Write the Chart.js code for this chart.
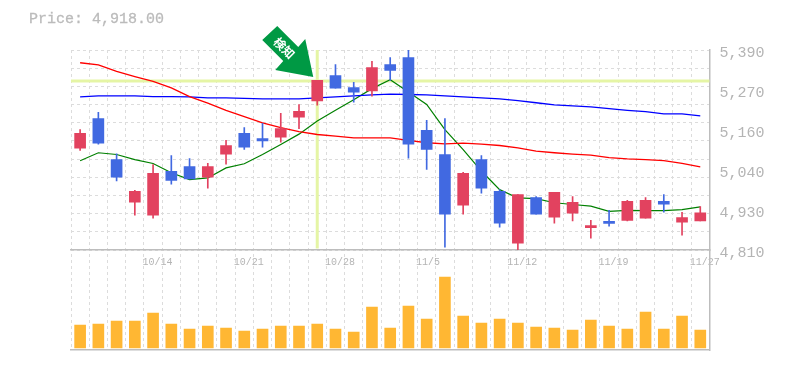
<!DOCTYPE html>
<html>
<head>
<meta charset="utf-8">
<title>Price chart</title>
<script src="https://cdn.jsdelivr.net/npm/chart.js@4"></script>
<style>
    body { margin: 0; background: #fff; }
    #wrap { position: relative; width: 785px; height: 370px; }
    #price { position: absolute; left: 29px; top: 11px; font: 15px "Liberation Mono", monospace; color: #bbb; -webkit-text-stroke: 0.3px #bbb; }
</style>
</head>
<body>
<div id="wrap">
    <div id="price">Price: 4,918.00</div>
    <canvas id="chart" width="785" height="370"></canvas>
</div>
<script>
const dates = ['10/8','10/9','10/10','10/11','10/14','10/15','10/16','10/17','10/18','10/21','10/22','10/23','10/24','10/25','10/28','10/29','10/30','10/31','11/1','11/5','11/6','11/7','11/8','11/11','11/12','11/13','11/14','11/15','11/18','11/19','11/20','11/21','11/22','11/26','11/27'];
const dateLabels = ['10/14','10/21','10/28','11/5','11/12','11/19','11/27'];
const priceTickLabels = ['4,810','4,930','5,040','5,160','5,270','5,390'];

const opens = [5105,5191,5072,4949,4911,5038,5052,5021,5088,5148,5133,5137,5195,5242,5316,5281,5271,5348,5368,5157,5087,4940,5072,4980,4830,4962,4905,4917,4875,4893,4896,4902,4951,4891,4894];
const closes = [5148,5120,5021,4980,5032,5012,5016,5052,5113,5108,5126,5162,5212,5302,5279,5268,5339,5331,5117,5102,4914,5032,4989,4888,4971,4914,4977,4948,4881,4887,4951,4954,4943,4904,4918];
const highs = [5159,5209,5089,4983,5058,5084,5075,5061,5128,5165,5177,5206,5232,5302,5348,5296,5357,5368,5390,5186,5191,5035,5084,4985,4971,4965,4977,4965,4896,4925,4954,4962,4971,4919,4936];
const lows = [5099,5117,5010,4911,4902,5001,5016,4989,5059,5102,5108,5123,5162,5230,5279,5239,5256,5302,5076,5044,4818,4914,4975,4876,4810,4914,4888,4894,4844,4879,4894,4902,4920,4853,4894];

const maShort = [5069,5092,5087,5072,5061,5034,5014,5019,5048,5060,5087,5116,5146,5184,5215,5246,5278,5304,5268,5232,5159,5101,5039,4985,4961,4959,4947,4942,4937,4922,4925,4924,4924,4927,4935];
const maMid = [5353,5347,5328,5313,5299,5280,5255,5236,5215,5197,5179,5165,5153,5145,5140,5135,5135,5135,5128,5121,5118,5120,5117,5113,5106,5097,5092,5088,5085,5078,5074,5072,5069,5061,5051];
const maLong = [5254,5257,5257,5257,5255,5255,5254,5251,5251,5250,5248,5248,5248,5251,5254,5257,5260,5262,5261,5260,5257,5254,5251,5248,5243,5237,5231,5228,5225,5220,5215,5211,5205,5205,5199];

const volumes = [2300,2400,2700,2700,3500,2400,1900,2200,2000,1700,1900,2200,2200,2400,1900,1600,4100,2000,4200,2900,7100,3200,2500,2900,2500,2100,2000,1800,2800,2200,1900,3600,1900,3200,1800];

// index of the flagged candle and the price level of the crosshair
const flagIndex = 13;
const flagPrice = 5300;

const upColor = '#e2425f';
const downColor = '#4169e1';
const gridColor = '#dcdcdc';
const axisColor = '#bdbdbd';
const labelColor = '#b4b4b4';
const monoFont = '"Liberation Mono", monospace';
const gridDash = [3, 3];

const candleColors = opens.map((o, i) => (closes[i] >= o ? upColor : downColor));

// crosshair goes under the candles, arrow goes on top
const markerPlugin = {
    id: 'marker',
    beforeDatasetsDraw(chart) {
        const { ctx, chartArea, scales } = chart;
        const x = scales.x.getPixelForValue(flagIndex);
        const y = scales.y.getPixelForValue(flagPrice);
        ctx.save();
        ctx.strokeStyle = '#e5f5a5';
        ctx.lineWidth = 3;
        ctx.beginPath();
        ctx.moveTo(chartArea.left, y);
        ctx.lineTo(chartArea.right, y);
        ctx.moveTo(x, chartArea.top);
        ctx.lineTo(x, scales.y.getPixelForValue(4814));
        ctx.stroke();
        ctx.restore();
    },
    afterDatasetsDraw(chart) {
        const { ctx, scales } = chart;
        const tipX = scales.x.getPixelForValue(flagIndex) - 4;
        const tipY = scales.y.getPixelForValue(flagPrice) - 4;
        const outline = [[-51,-37],[-36,-51],[-15,-30],[-8,-38],[0,0],[-38,-7],[-30,-16]];
        ctx.save();
        ctx.translate(tipX, tipY);
        ctx.fillStyle = '#009944';
        ctx.beginPath();
        outline.forEach((p, i) => (i ? ctx.lineTo(p[0], p[1]) : ctx.moveTo(p[0], p[1])));
        ctx.closePath();
        ctx.fill();
        ctx.translate(-29, -29);
        ctx.rotate(Math.PI / 4);
        ctx.fillStyle = '#fff';
        ctx.font = 'bold 12px "Noto Sans CJK JP"';
        ctx.textAlign = 'center';
        ctx.textBaseline = 'middle';
        ctx.fillText('検知', 0, 0);
        ctx.restore();
    }
};

const lineSet = (data, color, width) => ({
    type: 'line',
    data: data,
    borderColor: color,
    borderWidth: width,
    pointRadius: 0,
    tension: 0,
    fill: false,
    order: 2
});

new Chart(document.getElementById('chart'), {
    data: {
        labels: dates,
        datasets: [
            lineSet(maMid, '#ff0000', 1.3),
            lineSet(maLong, '#0000ff', 1.3),
            lineSet(maShort, '#008000', 1.2),
            {
                // wicks
                type: 'bar',
                data: lows.map((l, i) => [l, highs[i]]),
                backgroundColor: candleColors,
                barThickness: 1,
                grouped: false,
                order: 1
            },
            {
                // bodies
                type: 'bar',
                data: opens.map((o, i) => [o, closes[i]]),
                backgroundColor: candleColors,
                barThickness: 11,
                grouped: false,
                order: 0
            },
            {
                type: 'bar',
                data: volumes,
                yAxisID: 'yVol',
                backgroundColor: '#ffb733',
                barThickness: 11,
                grouped: false,
                order: 1
            }
        ]
    },
    options: {
        responsive: false,
        animation: false,
        layout: { padding: { left: 71, top: 50, bottom: 20, right: 0 } },
        plugins: { legend: { display: false }, tooltip: { enabled: false }, title: { display: false } },
        scales: {
            x: {
                axis: 'x',
                offset: true,
                position: { y: 4810 },
                grid: { offset: true, color: gridColor, drawTicks: false },
                border: { color: axisColor, width: 1.5, dash: gridDash },
                ticks: {
                    autoSkip: false,
                    maxRotation: 0,
                    minRotation: 0,
                    align: 'start',
                    labelOffset: -10.6,
                    padding: 6,
                    color: labelColor,
                    font: { family: monoFont, size: 10 },
                    callback: function(value) {
                        const label = this.getLabelForValue(value);
                        return dateLabels.includes(label) ? label : '';
                    }
                }
            },
            x2: {
                axis: 'x',
                position: 'bottom',
                offset: true,
                grid: { display: false, drawTicks: false },
                border: { color: axisColor, width: 1.5 },
                ticks: { display: false }
            },
            y: {
                axis: 'y',
                position: 'right',
                stack: 'panes',
                stackWeight: 2,
                min: 4810,
                max: 5390,
                afterBuildTicks: scale => {
                    // 55 steps: every 5th is a grid line, every 11th has a label
                    const ticks = [];
                    for (let i = 0; i <= 55; i++) {
                        ticks.push({ value: 4810 + (580 * i) / 55 });
                    }
                    scale.ticks = ticks;
                },
                afterFit: scale => { scale.width = 75.6; },
                grid: {
                    color: ctx => (ctx.index % 5 === 0 ? gridColor : 'transparent'),
                    drawTicks: false
                },
                border: { color: axisColor, width: 1.5, dash: gridDash },
                ticks: {
                    autoSkip: false,
                    padding: 10,
                    labelOffset: 3,
                    color: labelColor,
                    font: { family: monoFont, size: 15 },
                    callback: (value, index) => (index % 11 === 0 ? priceTickLabels[index / 11] : '')
                }
            },
            yVol: {
                axis: 'y',
                position: 'right',
                stack: 'panes',
                stackWeight: 1,
                min: -200,
                max: 9800,
                afterFit: scale => { scale.width = 75.6; },
                grid: { display: false, drawTicks: false },
                border: { color: axisColor, width: 1.5 },
                ticks: { display: false }
            }
        }
    },
    plugins: [markerPlugin]
});
</script>
</body>
</html>
